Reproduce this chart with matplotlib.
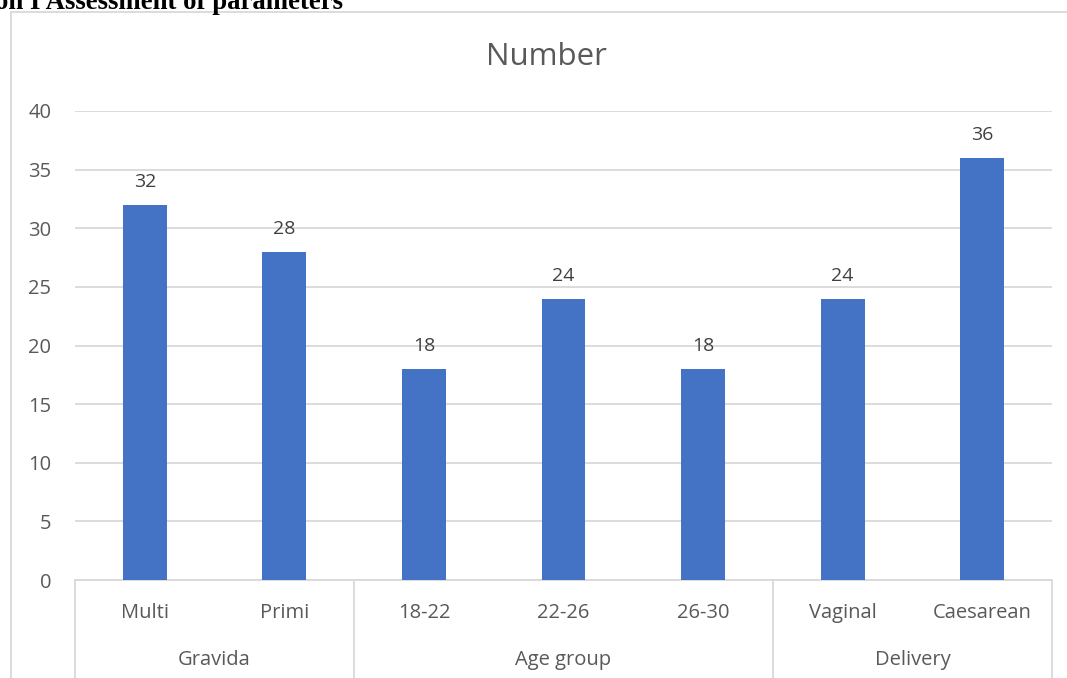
import matplotlib.pyplot as plt
import matplotlib.transforms as mtransforms
from matplotlib.lines import Line2D

categories = ["Multi", "Primi", "18-22", "22-26", "26-30", "Vaginal", "Caesarean"]
values = [32, 28, 18, 24, 18, 24, 36]
groups = ["Gravida", "Age group", "Delivery"]
group_sizes = [2, 3, 2]

plt.rcParams['font.family'] = ['Open Sans', 'DejaVu Sans']

fig = plt.figure(figsize=(10.67, 6.78), dpi=100)
W, H = 1067, 678

# page heading, partly cut off at the top
fig.text(-5 / W, 1 + 10 / H, "on I Assessment of parameters", family="Liberation Serif",
         weight="bold", fontsize=19.3, color="black", va="top", ha="left")

# chart frame
grey = "#d9d9d9"
fig.add_artist(Line2D([11 / W, 11 / W], [0, 1 - 12 / H], color=grey, lw=1.3,
                      transform=fig.transFigure))
fig.add_artist(Line2D([11 / W, 1], [1 - 12 / H, 1 - 12 / H], color=grey, lw=1.3,
                      transform=fig.transFigure))

ax = fig.add_axes([75 / W, 1 - 580 / H, (1052 - 75) / W, (580 - 111) / H])
x = list(range(len(categories)))
bars = ax.bar(x, values, width=0.315, color="#4472c4", zorder=3)
for xi, v in zip(x, values):
    ax.annotate(str(v), (xi, v), xytext=(0, 10), textcoords="offset points",
                ha="center", va="bottom", fontsize=14, color="#404040")

ax.set_xlim(-0.5, len(categories) - 0.5)
ax.set_ylim(0, 40)
ax.set_yticks(range(0, 41, 5))
ax.yaxis.grid(True, color=grey, lw=1.3, zorder=0)
ax.tick_params(axis="y", length=0, pad=17, labelsize=14.5, labelcolor="#595959")
ax.set_xticks([])
for s in ["top", "right", "left"]:
    ax.spines[s].set_visible(False)
ax.spines["bottom"].set_color(grey)
ax.spines["bottom"].set_linewidth(1.3)

fig.text(546 / W, 1 - 57 / H, "Number", fontsize=22.5, color="#595959",
         ha="center", va="center")

# two-level category axis
trans = mtransforms.blended_transform_factory(ax.transData, ax.transAxes)
for xi, c in zip(x, categories):
    ax.text(xi, -33 / 469, c, transform=trans, ha="center", va="center",
            fontsize=14.5, color="#595959")
edges = [-0.5]
for n in group_sizes:
    edges.append(edges[-1] + n)
for i, g in enumerate(groups):
    ax.text((edges[i] + edges[i + 1]) / 2, -80 / 469, g, transform=trans,
            ha="center", va="center", fontsize=14.5, color="#595959")
for e in edges:
    ax.plot([e, e], [0, -100 / 469], transform=trans, color=grey, lw=1.3, clip_on=False)

fig.savefig("out.png", dpi=100)
